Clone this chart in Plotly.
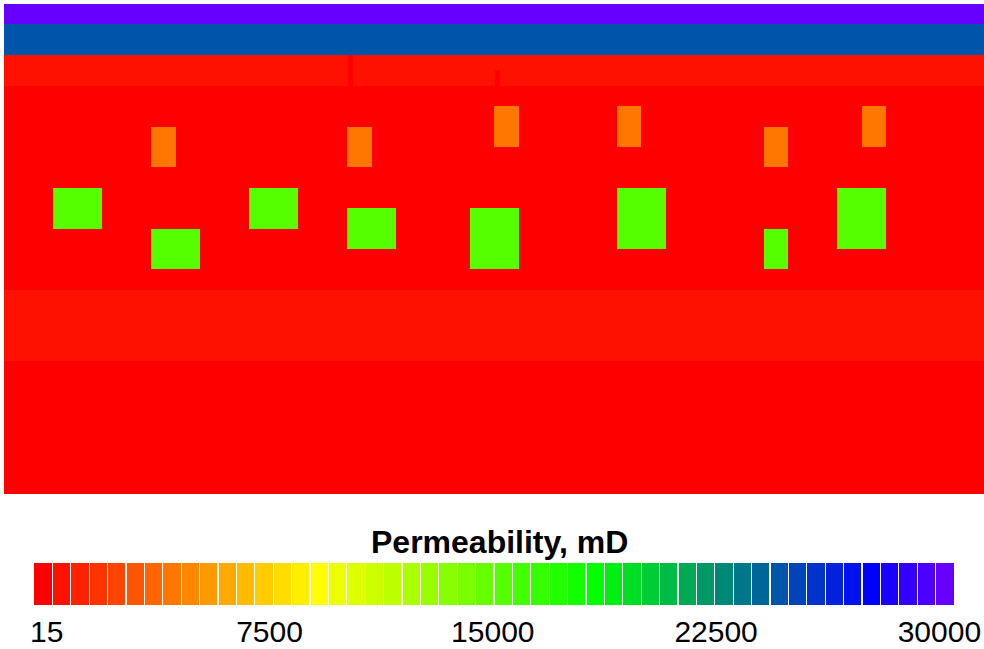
import numpy as np
import plotly.graph_objects as go

# ---------------- model geometry and properties ----------------
n_cols = 40
col_width = 25.0                      # m per grid column
model_length = n_cols * col_width     # m
model_depth = 24.0                    # m

# background layers (depth in m, permeability in mD)
layer_top = [0.0, 1.0, 2.5, 4.0, 14.0, 17.5]
layer_bottom = [1.0, 2.5, 4.0, 14.0, 17.5, 24.0]
layer_perm = [30000, 24800, 500, 15, 500, 15]

# high-permeability lenses inside the main layer (column index ranges, depth in m)
lens_col_start = [6, 14, 20, 25, 31, 35, 2, 6, 10, 14, 19, 25, 31, 34]
lens_col_end = [7, 15, 21, 26, 32, 36, 4, 8, 12, 16, 21, 27, 32, 36]
lens_top = [6, 6, 5, 5, 6, 5, 9, 11, 9, 10, 10, 9, 11, 9]
lens_bottom = [8, 8, 7, 7, 8, 7, 11, 13, 11, 12, 13, 12, 13, 12]
lens_perm = [4200, 4200, 4200, 4200, 4200, 4200,
             15500, 15500, 15500, 15500, 15500, 15500, 15500, 15500]

# narrow well-bore cells in the upper layer (x in m, depth in m)
well_x0 = [351.0, 501.0]
well_x1 = [356.0, 506.0]
well_top = [2.5, 3.25]
well_bottom = [4.0, 4.0]
well_perm = [15, 15]

# colour legend
perm_min, perm_max = -400, 30500
n_bands = 50
tick_values = [15, 7500, 15000, 22500, 30000]
tick_labels = ["15", "7500", "15000", "22500", "30000"]
legend_title = "<b>Permeability, mD</b>"

# ---------------- build the cell grid ----------------
x_edges = sorted(set([i * col_width for i in range(n_cols + 1)] + well_x0 + well_x1))
y_edges = sorted(set(layer_top + layer_bottom + lens_top + lens_bottom + well_top + well_bottom))
x_edges = np.array(x_edges)
y_edges = np.array(y_edges)
xc = 0.5 * (x_edges[:-1] + x_edges[1:])
yc = 0.5 * (y_edges[:-1] + y_edges[1:])
X, Y = np.meshgrid(xc, yc)

perm = np.zeros_like(X)
for t, b, v in zip(layer_top, layer_bottom, layer_perm):
    perm[(Y > t) & (Y < b)] = v
for c0, c1, t, b, v in zip(lens_col_start, lens_col_end, lens_top, lens_bottom, lens_perm):
    m = (X > c0 * col_width) & (X < c1 * col_width) & (Y > t) & (Y < b)
    perm[m] = v
for x0, x1, t, b, v in zip(well_x0, well_x1, well_top, well_bottom, well_perm):
    m = (X > x0) & (X < x1) & (Y > t) & (Y < b)
    perm[m] = v

# ---------------- banded rainbow colour scale ----------------
anchor_band = [0, 15, 30, 45, 49]
anchor_rgb = [(255, 0, 0), (255, 255, 0), (0, 255, 0), (0, 0, 255), (102, 0, 255)]


def band_colour(k):
    for a in range(len(anchor_band) - 1):
        k0, k1 = anchor_band[a], anchor_band[a + 1]
        if k0 <= k <= k1:
            f = (k - k0) / (k1 - k0)
            c = [round(anchor_rgb[a][j] + f * (anchor_rgb[a + 1][j] - anchor_rgb[a][j])) for j in range(3)]
            return "rgb({},{},{})".format(*c)
    return "rgb(102,0,255)"


gap = 0.0006
colorscale = []
for k in range(n_bands):
    lo = k / n_bands + (gap if k > 0 else 0.0)
    hi = (k + 1) / n_bands - (gap if k < n_bands - 1 else 0.0)
    col = band_colour(k)
    colorscale.append([lo, col])
    colorscale.append([hi, col])
    if k < n_bands - 1:
        colorscale.append([hi, "rgb(255,255,255)"])
        colorscale.append([(k + 1) / n_bands + gap, "rgb(255,255,255)"])

fig = go.Figure(
    go.Heatmap(
        x=x_edges,
        y=y_edges,
        z=perm,
        zmin=perm_min,
        zmax=perm_max,
        colorscale=colorscale,
        zsmooth=False,
        hoverinfo="skip",
        colorbar=dict(
            orientation="h",
            thickness=42,
            thicknessmode="pixels",
            len=920,
            lenmode="pixels",
            x=0.5003,
            xanchor="center",
            y=-0.1408,
            yanchor="top",
            xpad=0,
            ypad=0,
            outlinewidth=0,
            ticks="",
            tickvals=tick_values,
            ticktext=tick_labels,
            tickfont=dict(size=30, color="black", family="Liberation Sans, Arial"),
        ),
    )
)

# legend heading above the colour bar
fig.add_annotation(
    text=legend_title,
    xref="paper", yref="paper",
    x=0.506, y=-0.098,
    xanchor="center", yanchor="middle",
    showarrow=False,
    font=dict(size=32, color="black", family="Liberation Sans, Arial"),
)

fig.update_layout(
    width=984,
    height=649,
    margin=dict(l=4, r=0, t=4, b=155),
    paper_bgcolor="white",
    plot_bgcolor="white",
    xaxis=dict(visible=False, range=[0, model_length]),
    yaxis=dict(visible=False, range=[model_depth, 0]),
    font=dict(family="Liberation Sans, Arial", color="black"),
)

fig.write_html("out.html")
